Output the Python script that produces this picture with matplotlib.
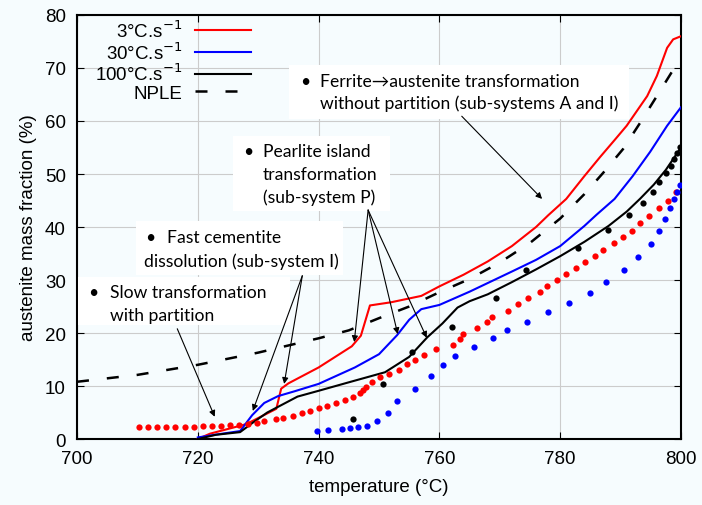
import matplotlib.pyplot as plt
from matplotlib.patches import Rectangle

# simulated curves, temperature (C) / austenite fraction (%)
t_3 = [720, 722, 728, 733, 733.8, 735, 740, 745.5, 747, 748.5, 752, 757, 760, 764, 768,
       772, 776, 778, 781, 784, 786.6, 789, 791, 794.4, 796, 797.7, 798.7, 800]
f_3 = [0, 1.0, 2.8, 5.7, 9.5, 10.5, 13.5, 17.5, 19.5, 25.2, 25.8, 27.0, 28.8, 31.0, 33.5,
       36.4, 40.0, 42.2, 45.3, 49.6, 53.2, 56.4, 59.1, 64.7, 68.5, 73.8, 75.4, 76.0]

t_30 = [720, 724, 727, 729, 731, 733.3, 736, 740, 746, 750, 753, 755, 757, 760, 765, 772,
        776, 780, 784, 786, 789, 792, 794.9, 797.7, 800]
f_30 = [0.3, 1.0, 1.5, 4.5, 6.8, 8.1, 9.0, 10.4, 13.5, 16.0, 19.6, 22.5, 24.5, 25.3, 27.8,
        31.6, 33.8, 36.4, 40.2, 42.3, 45.3, 49.6, 54.2, 59.1, 62.6]

t_100 = [720, 723, 727, 729, 731.5, 733, 736.5, 740, 745, 751, 755, 758, 760.5, 763, 765,
         768, 772, 776, 780, 784, 788, 791, 793.2, 795.5, 797.5, 800]
f_100 = [0, 0.8, 1.3, 3.0, 5.0, 5.9, 8.0, 9.1, 10.7, 12.6, 15.5, 19.2, 21.8, 24.8, 26.0,
         27.3, 29.6, 32.0, 34.5, 37.2, 40.2, 42.9, 45.3, 48.0, 50.8, 55.0]

t_nple = [700, 710, 720, 730, 740, 745, 750, 755, 760, 765, 770, 775, 780, 784, 787.1,
          790.4, 793.2, 796, 799]
f_nple = [10.8, 12.1, 14.0, 16.3, 19.0, 20.5, 22.8, 25.0, 27.7, 30.2, 33.3, 37.0, 41.6,
          46.2, 50.2, 54.7, 59.6, 64.7, 70.2]

# measured points
t_3_exp = [710.3, 711.8, 713.3, 714.8, 716.3, 717.8, 719.3, 720.8, 722.3, 723.8, 725.3, 726.8,
           728.3, 729.8, 731.0, 733.0, 734.1, 735.8, 737.3, 738.6, 740.0, 741.4, 742.9, 744.3,
           745.7, 746.9, 747.4, 747.9, 748.9, 750.2, 751.6, 753.3, 754.6, 756.0, 757.5, 759.4,
           762.3, 763.4, 763.9, 766.2, 767.8, 768.7, 771.4, 773.0, 774.7, 776.7, 777.8, 779.5,
           781.0, 782.6, 784.1, 785.8, 787.1, 788.9, 790.4, 791.9, 793.2, 794.7, 796.4, 797.9,
           799.1]
f_3_exp = [2.3, 2.3, 2.3, 2.3, 2.3, 2.3, 2.3, 2.4, 2.4, 2.5, 2.6, 2.7,
           2.8, 3.0, 3.4, 3.8, 4.0, 4.4, 4.9, 5.3, 5.9, 6.2, 6.8, 7.3,
           7.9, 8.7, 9.2, 9.8, 10.8, 11.7, 12.3, 13.0, 14.2, 14.9, 15.8, 17.0,
           17.7, 18.9, 19.8, 20.9, 22.0, 23.0, 24.2, 25.5, 26.6, 27.7, 28.9, 30.0,
           31.1, 32.3, 33.4, 34.5, 35.7, 37.0, 38.1, 39.2, 40.8, 42.1, 43.6, 44.9,
           46.6]

t_30_exp = [739.7, 741.5, 743.9, 745.2, 746.5, 748.0, 749.7, 751.5, 753.0, 755.9, 758.6, 760.6,
            762.6, 765.7, 768.9, 771.2, 774.5, 778.0, 781.5, 785.0, 787.6, 790.6, 792.9, 795.0,
            796.4, 797.4, 798.2, 798.8, 799.4, 799.8]
f_30_exp = [1.6, 1.7, 1.8, 2.0, 2.2, 2.5, 3.4, 5.0, 7.1, 9.5, 11.9, 14.0,
            15.7, 17.4, 19.1, 20.6, 22.1, 24.0, 25.7, 27.5, 29.6, 31.9, 34.3, 36.8,
            39.2, 41.5, 43.6, 45.2, 46.6, 47.9]

t_100_exp = [745.7, 750.6, 755.5, 762.1, 769.4, 774.3, 783.0, 787.9, 791.4, 793.7, 795.3,
             796.4, 797.5, 798.3, 798.9, 799.4, 799.9]
f_100_exp = [3.8, 10.4, 16.4, 21.1, 26.6, 31.9, 36.0, 39.4, 42.3, 44.5, 46.6,
             48.5, 50.2, 51.5, 52.8, 54.0, 55.0]

labels = ['3°C.s$^{-1}$', '30°C.s$^{-1}$', '100°C.s$^{-1}$', 'NPLE']

bg = '#f6fcfe'
plt.rcParams['font.family'] = ['Liberation Sans', 'DejaVu Sans']
note_font = ['Lato', 'DejaVu Sans']

fig = plt.figure(figsize=(7.02, 5.06), dpi=100, facecolor=bg)
ax = fig.add_axes([0.1097, 0.1304, 0.8604, 0.838], facecolor=bg)

ax.plot(t_3, f_3, color='#ff0000', lw=1.5, label=labels[0], zorder=5)
ax.plot(t_30, f_30, color='#0000ff', lw=1.5, label=labels[1], zorder=5)
ax.plot(t_100, f_100, color='black', lw=1.5, label=labels[2], zorder=5)
ax.plot(t_nple, f_nple, color='black', lw=1.8, dashes=(4.8, 7.2), label=labels[3], zorder=5)

ax.plot(t_3_exp, f_3_exp, 'o', color='#ff0000', ms=4.5, mew=0, zorder=6)
ax.plot(t_30_exp, f_30_exp, 'o', color='#0000ff', ms=4.5, mew=0, zorder=6)
ax.plot(t_100_exp, f_100_exp, 'o', color='black', ms=4.5, mew=0, zorder=6)

ax.set_xlim(700, 800)
ax.set_ylim(0, 80)
ax.set_xticks(range(700, 801, 20))
ax.set_yticks(range(0, 81, 10))
ax.grid(True, color='#cccccc', lw=0.8)
ax.set_axisbelow(True)
ax.tick_params(direction='in', top=True, right=True, length=5, width=0.8, labelsize=13.5, pad=8)
for s in ax.spines.values():
    s.set_linewidth(1.5)

ax.set_xlabel('temperature (°C)', fontsize=13.5, labelpad=8)
ax.set_ylabel('austenite mass fraction (%)', fontsize=13.5, labelpad=6)

leg = ax.legend(loc='upper left', bbox_to_anchor=(0.03, 0.99), markerfirst=False,
                frameon=False, fontsize=13.5, handlelength=2.95, handletextpad=0.7,
                labelspacing=0.02, borderpad=0, borderaxespad=0)

# white note boxes: (x0, y0, x1, y1) in data units
boxes = [(735.1, 60.4, 791.4, 70.6), (725.8, 43.0, 751.8, 57.1),
         (709.8, 31.0, 744.0, 41.1), (700.2, 21.6, 735.3, 30.6)]
for x0, y0, x1, y1 in boxes:
    ax.add_patch(Rectangle((x0, y0), x1 - x0, y1 - y0, facecolor='white',
                           edgecolor='none', zorder=3))

kw = dict(fontsize=12.6, family=note_font, va='center', ha='left', zorder=7, color='black')
ax.text(736.9, 67.5, '•', **kw)
ax.text(740.2, 67.5, 'Ferrite→austenite transformation', **kw)
ax.text(740.2, 63.4, 'without partition (sub-systems A and I)', **kw)

ax.text(727.5, 54.3, '•', **kw)
ax.text(730.8, 54.3, 'Pearlite island', **kw)
ax.text(730.8, 50.0, 'transformation', **kw)
ax.text(730.8, 45.7, '(sub-system P)', **kw)

ax.text(711.3, 38.1, '•', **kw)
ax.text(714.9, 38.1, 'Fast cementite', **kw)
ax.text(711.1, 33.6, 'dissolution (sub-system I)', **kw)

ax.text(701.8, 27.7, '•', **kw)
ax.text(705.5, 27.7, 'Slow transformation', **kw)
ax.text(705.5, 23.4, 'with partition', **kw)

arrow = dict(arrowstyle='-|>', color='black', lw=0.8, mutation_scale=9, shrinkA=0, shrinkB=0)
ax.annotate('', xy=(777.0, 45.3), xytext=(763.7, 60.9), arrowprops=arrow, zorder=8)
for tip in [(745.9, 18.3), (753.1, 19.8), (757.9, 19.1)]:
    ax.annotate('', xy=tip, xytext=(748.2, 43.2), arrowprops=arrow, zorder=8)
for tip in [(729.1, 5.3), (734.3, 10.4)]:
    ax.annotate('', xy=tip, xytext=(737.3, 30.8), arrowprops=arrow, zorder=8)
ax.annotate('', xy=(722.8, 4.2), xytext=(716.6, 20.8), arrowprops=arrow, zorder=8)

fig.savefig('out.png', dpi=100, facecolor=bg)
